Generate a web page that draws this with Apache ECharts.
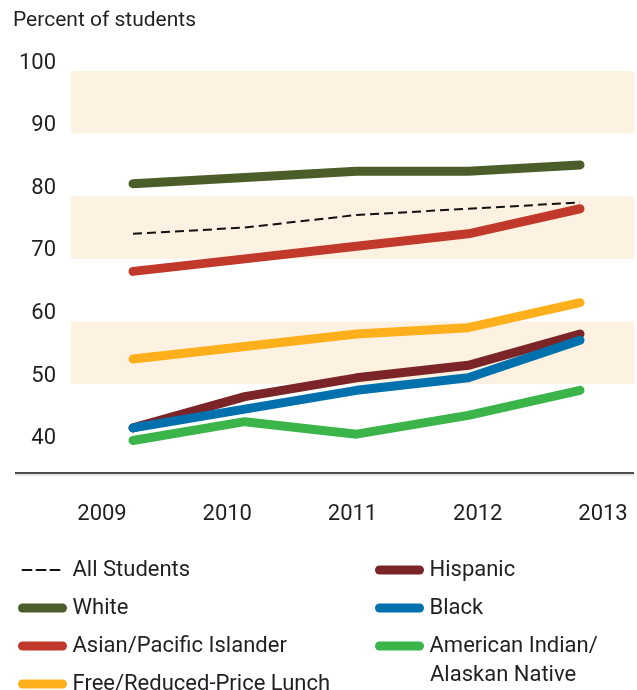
<!DOCTYPE html>
<html>
<head>
<meta charset="utf-8">
<script src="https://cdn.jsdelivr.net/npm/echarts@6/dist/echarts.min.js"></script>
<style>html,body{margin:0;padding:0;background:#fff}#c{width:637px;height:690px}</style>
</head>
<body>
<div id="c"></div>
<script>
const years = [2009, 2010, 2011, 2012, 2013];
const yTicks = [40, 50, 60, 70, 80, 90, 100];
const bands = [[90, 100], [70, 80], [50, 60]];
const allStudents = [74, 75, 77, 78, 79];
const white = [82, 83, 84, 84, 85];
const asian = [68, 70, 72, 74, 78];
const lunch = [54, 56, 58, 59, 63];
const hispanic = [43, 48, 51, 53, 58];
const black = [43, 46, 49, 51, 57];
const amIndian = [41, 44, 42, 45, 49];
const names = ['All Students', 'White', 'Asian/Pacific Islander', 'Free/Reduced-Price Lunch', 'Hispanic', 'Black', 'American Indian/\nAlaskan Native'];

const FONT = 'Roboto';
const TXT = '#231f20';
const pts = arr => arr.map((v, i) => [years[i], v]);

function thick(name, data, color) {
  return {
    name, type: 'line', data: pts(data), symbol: 'none', silent: true,
    lineStyle: { color, width: 9, cap: 'round', join: 'round' },
    itemStyle: { color }
  };
}

const series = [
  {
    name: '__bands', type: 'line', data: [], silent: true,
    markArea: {
      silent: true,
      itemStyle: { color: '#fdf1e2' },
      data: bands.map(b => [{ yAxis: b[0] }, { yAxis: b[1] }])
    }
  },
  thick(names[1], white, '#4b5e2a'),
  thick(names[2], asian, '#c0392b'),
  thick(names[3], lunch, '#fdb01b'),
  thick(names[6], amIndian, '#3bb54a'),
  thick(names[4], hispanic, '#7b2528'),
  thick(names[5], black, '#0071ad'),
  {
    name: names[0], type: 'line', data: pts(allStudents), symbol: 'none', silent: true,
    lineStyle: { color: '#111', width: 2, type: [9, 5] },
    itemStyle: { color: '#111' }
  }
];

const legendCommon = {
  orient: 'vertical', itemWidth: 40, itemHeight: 9, itemGap: 8,
  height: 200, selectedMode: false,
  textStyle: { fontFamily: FONT, fontSize: 22, color: TXT, lineHeight: 30, padding: [0, 0, 0, 5] },
  lineStyle: { width: 'inherit', cap: 'round' },
  itemStyle: { opacity: 0 },
  formatter: n => n.split('\n')[0]
};

const option = {
  animation: false,
  title: {
    text: 'Percent of students', left: 8, top: 5,
    textStyle: { fontFamily: FONT, fontSize: 21, fontWeight: 'normal', color: TXT }
  },
  grid: [
    { left: 71, right: 3, top: 71, bottom: 217 },
    { left: 102, right: 34, top: 496, height: 1 }
  ],
  xAxis: [
    { type: 'value', gridIndex: 0, min: 2008.445, max: 2013.483, show: false },
    {
      type: 'value', gridIndex: 1, min: 2009, max: 2013, interval: 1,
      axisLine: { show: false }, axisTick: { show: false }, splitLine: { show: false },
      axisLabel: { margin: 6, fontFamily: FONT, fontSize: 22, color: TXT, formatter: v => String(v) }
    }
  ],
  yAxis: [
    {
      type: 'value', gridIndex: 0, min: 35.8, max: 100,
      axisLine: { show: false }, axisTick: { show: false }, splitLine: { show: false },
      axisLabel: {
        customValues: yTicks, margin: 15, verticalAlign: 'bottom',
        fontFamily: FONT, fontSize: 22, color: TXT, lineHeight: 16
      }
    },
    { type: 'value', gridIndex: 1, show: false }
  ],
  legend: [
    Object.assign({}, legendCommon, {
      left: 13, top: 550,
      data: [names[0], names[1], names[2], names[3]]
    }),
    Object.assign({}, legendCommon, {
      left: 370, top: 550,
      data: [names[4], names[5], names[6]]
    })
  ],
  graphic: [
    { type: 'line', shape: { x1: 15, y1: 473, x2: 634, y2: 473 }, style: { stroke: '#111', lineWidth: 1.5 }, z: 10 },
    { type: 'line', shape: { x1: 15, y1: 475, x2: 634, y2: 475 }, style: { stroke: '#ccc', lineWidth: 1 }, z: 10 },
    {
      type: 'text', x: 430, y: 675,
      style: { text: names[6].split('\n')[1], fontFamily: FONT, fontSize: 22, fill: TXT, verticalAlign: 'middle', align: 'left' }
    }
  ],
  series
};

const chart = echarts.init(document.getElementById('c'), null, { renderer: 'canvas' });
chart.setOption(option);
</script>
</body>
</html>
